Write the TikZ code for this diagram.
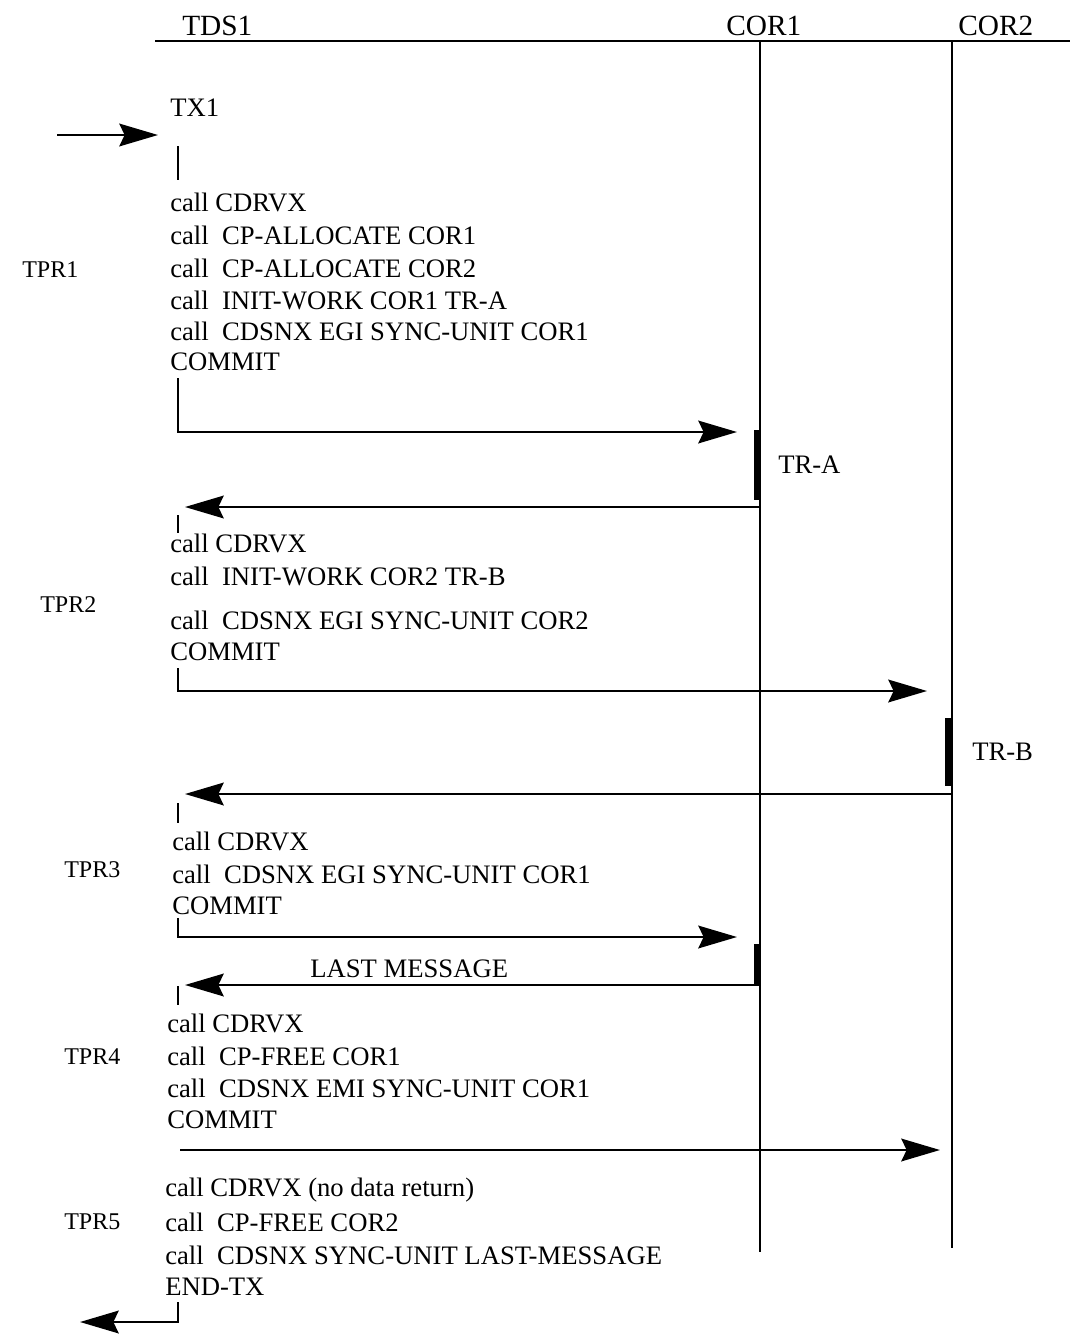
\documentclass[tikz,border=0pt]{standalone}
\usepackage{fontspec}
\setmainfont{Liberation Serif}
\usetikzlibrary{arrows.meta}
\begin{document}
\begin{tikzpicture}[x=0.75pt,y=-0.75pt,
  lbl/.style={font=\fontsize{20}{24}\selectfont, inner sep=0pt, anchor=west},
  hdr/.style={font=\fontsize{22}{26}\selectfont, inner sep=0pt, anchor=west},
  tpr/.style={font=\fontsize{18}{22}\selectfont, inner sep=0pt, anchor=west},
  msg/.style={line width=2pt, -{Stealth[length=29pt,width=17pt,inset=4pt]}},
  life/.style={line width=1.5pt},
  act/.style={line width=4.5pt},
  tickline/.style={line width=1.5pt}]
\useasboundingbox (0,0) rectangle (1070,1336);
% header
\coordinate (hl) at (155,41);
\coordinate (hr) at (1070,41);
\draw[line width=2.2pt] (hl) -- (hr);
\node[hdr] (tds) at (182,26) {TDS1};
\node[hdr] (cor1) at (726,26) {COR1};
\node[hdr] (cor2) at (958,26) {COR2};
% lifelines
\coordinate (l1t) at (760,41); \coordinate (l1b) at (760,1252);
\coordinate (l2t) at (952,41); \coordinate (l2b) at (952,1248);
\draw[life] (l1t) -- (l1b);
\draw[life] (l2t) -- (l2b);
% start
\node[lbl] (tx1) at (170,108) {TX1};
\coordinate (in0) at (57,135); \coordinate (in1) at (158,135);
\draw[msg] (in0) -- (in1);
\coordinate (t0a) at (178,146); \coordinate (t0b) at (178,180);
\draw[tickline] (t0a) -- (t0b);
% block 1
\node[tpr] (tpr1) at (22,270) {TPR1};
\node[lbl] (b1a) at (170,202) {call CDRVX};
\node[lbl] (b1b) at (170,235) {call\ \ CP-ALLOCATE COR1};
\node[lbl] (b1c) at (170,268) {call\ \ CP-ALLOCATE COR2};
\node[lbl] (b1d) at (170,300) {call\ \ INIT-WORK COR1 TR-A};
\node[lbl] (b1e) at (170,331) {call\ \ CDSNX EGI SYNC-UNIT COR1};
\node[lbl] (b1f) at (170,362) {COMMIT};
\coordinate (m1s) at (178,378); \coordinate (m1e) at (737,432);
\draw[msg] (m1s) |- (m1e);
% TR-A
\coordinate (a1t) at (757,430); \coordinate (a1b) at (757,500);
\draw[act] (a1t) -- (a1b);
\node[lbl] (tra) at (778,465) {TR-A};
\coordinate (r1s) at (760,507); \coordinate (r1e) at (185,507);
\draw[msg] (r1s) -- (r1e);
\coordinate (t1a) at (178,515); \coordinate (t1b) at (178,533);
\draw[tickline] (t1a) -- (t1b);
% block 2
\node[tpr] (tpr2) at (40,605) {TPR2};
\node[lbl] (b2a) at (170,543) {call CDRVX};
\node[lbl] (b2b) at (170,576) {call\ \ INIT-WORK COR2 TR-B};
\node[lbl] (b2c) at (170,620) {call\ \ CDSNX EGI SYNC-UNIT COR2};
\node[lbl] (b2d) at (170,652) {COMMIT};
\coordinate (m2s) at (178,668); \coordinate (m2e) at (927,691);
\draw[msg] (m2s) |- (m2e);
% TR-B
\coordinate (a2t) at (948,718); \coordinate (a2b) at (948,786);
\draw[act] (a2t) -- (a2b);
\node[lbl] (trb) at (972,752) {TR-B};
\coordinate (r2s) at (952,794); \coordinate (r2e) at (185,794);
\draw[msg] (r2s) -- (r2e);
\coordinate (t2a) at (178,803); \coordinate (t2b) at (178,823);
\draw[tickline] (t2a) -- (t2b);
% block 3
\node[tpr] (tpr3) at (64,870) {TPR3};
\node[lbl] (b3a) at (172,841) {call CDRVX};
\node[lbl] (b3b) at (172,874) {call\ \ CDSNX EGI SYNC-UNIT COR1};
\node[lbl] (b3c) at (172,906) {COMMIT};
\coordinate (m3s) at (178,918); \coordinate (m3e) at (737,937);
\draw[msg] (m3s) |- (m3e);
\coordinate (a3t) at (757,944); \coordinate (a3b) at (757,985);
\draw[act] (a3t) -- (a3b);
\node[lbl] (lm) at (310,969) {LAST MESSAGE};
\coordinate (r3s) at (760,985); \coordinate (r3e) at (185,985);
\draw[msg] (r3s) -- (r3e);
\coordinate (t3a) at (178,986); \coordinate (t3b) at (178,1005);
\draw[tickline] (t3a) -- (t3b);
% block 4
\node[tpr] (tpr4) at (64,1057) {TPR4};
\node[lbl] (b4a) at (167,1023) {call CDRVX};
\node[lbl] (b4b) at (167,1056) {call\ \ CP-FREE COR1};
\node[lbl] (b4c) at (167,1088) {call\ \ CDSNX EMI SYNC-UNIT COR1};
\node[lbl] (b4d) at (167,1120) {COMMIT};
\coordinate (m4s) at (180,1150); \coordinate (m4e) at (940,1150);
\draw[msg] (m4s) -- (m4e);
% block 5
\node[tpr] (tpr5) at (64,1222) {TPR5};
\node[lbl] (b5a) at (165,1190) {call CDRVX (no data return)};
\node[lbl] (b5b) at (165,1222) {call\ \ CP-FREE COR2};
\node[lbl] (b5c) at (165,1255) {call\ \ CDSNX SYNC-UNIT LAST-MESSAGE};
\node[lbl] (b5d) at (165,1287) {END-TX};
\coordinate (m5s) at (178,1302); \coordinate (m5e) at (80,1322);
\draw[msg] (m5s) |- (m5e);
\end{tikzpicture}
\end{document}
